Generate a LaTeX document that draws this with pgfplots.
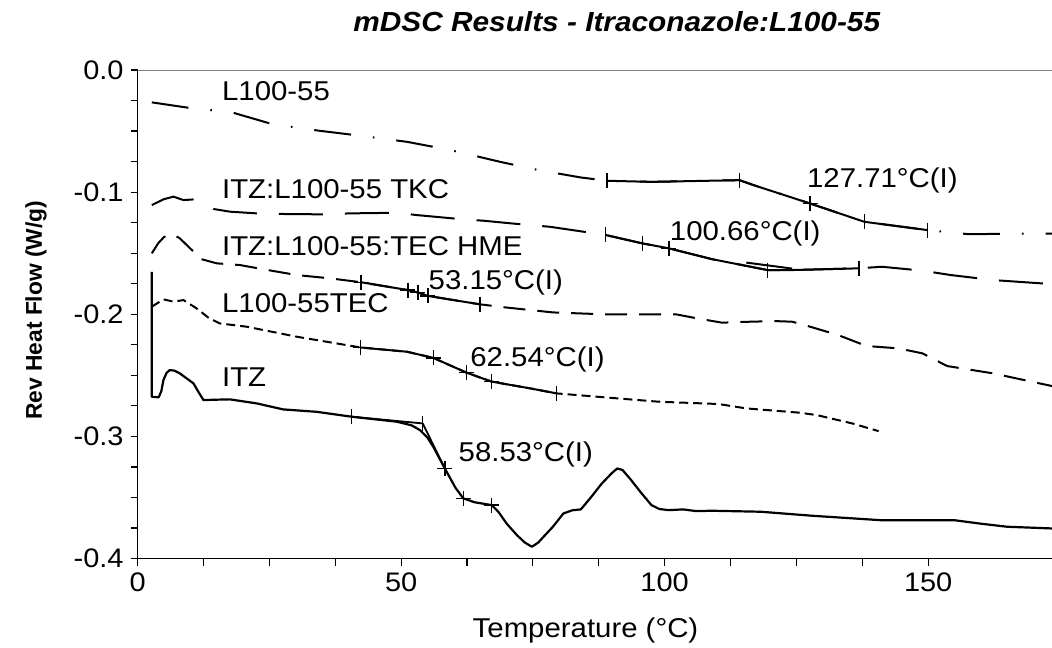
\documentclass[border=0pt]{standalone}
\usepackage{fontspec}
\setmainfont{Liberation Sans}[FakeStretch=1.08]
\newfontfamily\ylabfont{Liberation Sans}
\usepackage{pgfplots}
\pgfplotsset{compat=1.18}

\begin{document}
\begin{tikzpicture}
\useasboundingbox (-68.8bp,-44.75bp) rectangle (457.2bp,279.25bp);
\begin{axis}[
  name=ax, at={(0,0)}, anchor=south west,
  scale only axis, width=457.2bp, height=244.25bp,
  xmin=0, xmax=173.5, ymin=-0.4, ymax=0,
  axis x line*=bottom, axis y line*=left,
  axis line style={line width=0.75bp, -},
  xtick={0,50,100,150}, xticklabels={0,50,100,150}, minor x tick num=3,
  ytick={-0.4,-0.3,-0.2,-0.1,0}, yticklabels={-0.4,-0.3,-0.2,-0.1,0.0}, minor y tick num=3,
  tick align=outside, major tick length=3.5bp, minor tick length=3.5bp,
  tick style={black, line width=0.6bp},
  ticklabel style={font=\fontsize{13.4bp}{15bp}\selectfont},
  every axis plot/.append style={line join=round},
]
% L100-55
\addplot[black, line width=1bp, dash pattern=on 18.5bp off 11bp on 0.8bp off 11bp] coordinates {
(2.7,-0.0265) (9.6,-0.0309) (17.9,-0.0347) (25.7,-0.0445) (34.6,-0.0498) (42.8,-0.0541)
(51.1,-0.0588) (59.4,-0.0656) (68.8,-0.0752) (76.1,-0.0820) (84.1,-0.0880) (89.1,-0.0907)
(97.5,-0.0916) (114.2,-0.0902) (116.9,-0.0943) (127.6,-0.1093) (137.9,-0.1243) (149.9,-0.1311)
(157.6,-0.1344) (173.5,-0.1339)};
\addplot[black, line width=1bp] coordinates {
(89.1,-0.0907) (97.5,-0.0916) (114.2,-0.0902) (116.9,-0.0943) (127.6,-0.1093) (137.9,-0.1243) (149.9,-0.1311)};
\addplot[black, only marks, mark=|, mark size=3.75bp, mark options={line width=0.7bp}] coordinates {
(89.1,-0.0907) (114.2,-0.0902) (137.9,-0.1243) (149.9,-0.1311)};
\addplot[black, only marks, mark=+, mark size=3.75bp, mark options={line width=0.7bp}] coordinates {
(127.6,-0.1093)};

% ITZ:L100-55 TKC
\addplot[black, line width=1bp, dash pattern=on 22bp off 11bp] coordinates {
(2.7,-0.1106) (4.9,-0.1059) (6.8,-0.1037) (8.7,-0.1065) (10.9,-0.1059) (14.4,-0.1138)
(17.5,-0.1160) (22.6,-0.1174) (27.6,-0.1179) (35.2,-0.1182) (40.3,-0.1174) (49.2,-0.1169)
(53.0,-0.1188) (61.8,-0.1223) (65.6,-0.1234) (74.1,-0.1269) (78.1,-0.1283) (86.8,-0.1338)
(88.8,-0.1351) (95.8,-0.1420) (100.8,-0.1460) (108.9,-0.1548) (119.5,-0.1638) (124.2,-0.1638)
(136.9,-0.1624) (141.2,-0.1611) (148.9,-0.1643) (154.3,-0.1679) (162.3,-0.1720) (173.5,-0.1753)};
\addplot[black, line width=1bp] coordinates {
(88.8,-0.1351) (95.8,-0.1420) (100.8,-0.1460) (108.9,-0.1548) (119.5,-0.1638) (124.2,-0.1638) (136.9,-0.1624)};
\addplot[black, line width=1bp] coordinates {(115.5,-0.1577) (124.2,-0.1626)};
\addplot[black, only marks, mark=|, mark size=3.75bp, mark options={line width=0.7bp}] coordinates {
(88.8,-0.1351) (95.8,-0.1420) (119.5,-0.1638) (136.9,-0.1624)};
\addplot[black, only marks, mark=+, mark size=3.75bp, mark options={line width=0.7bp}] coordinates {
(100.8,-0.1460)};

% ITZ:L100-55:TEC HME
\addplot[black, line width=1bp, dash pattern=on 11bp off 6bp] coordinates {
(2.7,-0.1501) (3.9,-0.1419) (5.0,-0.1368) (6.1,-0.1346) (7.1,-0.1355) (8.0,-0.1378)
(10.3,-0.1474) (12.2,-0.1550) (15.0,-0.1583) (19.4,-0.1597) (23.9,-0.1632) (30.2,-0.1679)
(36.5,-0.1706) (42.4,-0.1738) (51.3,-0.1802) (53.2,-0.1822) (55.1,-0.1850) (65.0,-0.1919)
(70.0,-0.1945) (78.8,-0.1985) (88.8,-0.2001) (102.2,-0.2001) (106.2,-0.2034) (110.9,-0.2069)
(115.5,-0.2062) (120.9,-0.2056) (124.2,-0.2061) (127.6,-0.2102) (132.9,-0.2170) (138.3,-0.2260)
(144.3,-0.2279) (148.9,-0.2320) (153.6,-0.2424) (162.3,-0.2484) (173.5,-0.2588)};
\addplot[black, line width=1bp] coordinates {
(42.4,-0.1738) (51.3,-0.1802) (53.2,-0.1822) (55.1,-0.1850) (65.0,-0.1919)};
\addplot[black, only marks, mark=+, mark size=3.75bp, mark options={line width=0.7bp}] coordinates {
(42.4,-0.1738) (51.3,-0.1802) (53.2,-0.1822) (55.1,-0.1850)};
\addplot[black, only marks, mark=|, mark size=3.75bp, mark options={line width=0.7bp}] coordinates {
(65.0,-0.1919)};

% L100-55TEC
\addplot[black, line width=1bp, dash pattern=on 4.5bp off 2.5bp] coordinates {
(2.7,-0.1938) (4.9,-0.1878) (6.8,-0.1897) (8.7,-0.1884) (11.2,-0.1952) (13.5,-0.2030)
(15.6,-0.2075) (20.7,-0.2102) (30.2,-0.2184) (42.3,-0.2272) (51.1,-0.2307) (56.1,-0.2357)
(62.4,-0.2478) (67.2,-0.2552) (74.5,-0.2607) (79.5,-0.2648) (88.8,-0.2681) (98.8,-0.2716)
(110.2,-0.2735) (115.5,-0.2771) (125.6,-0.2806) (128.9,-0.2826) (135.6,-0.2894) (140.6,-0.2957)};
\addplot[black, line width=1bp] coordinates {
(42.3,-0.2272) (51.1,-0.2307) (56.1,-0.2357) (62.4,-0.2478) (67.2,-0.2552) (74.5,-0.2607) (79.5,-0.2648)};
\addplot[black, only marks, mark=+, mark size=3.75bp, mark options={line width=0.7bp}] coordinates {
(42.3,-0.2272) (56.1,-0.2357) (62.4,-0.2478) (67.2,-0.2552)};
\addplot[black, only marks, mark=|, mark size=3.75bp, mark options={line width=0.7bp}] coordinates {
(79.5,-0.2648)};

% ITZ
\addplot[black, line width=1.1bp] coordinates {
(2.7,-0.1652) (2.7,-0.2676) (4.0,-0.2680) (4.5,-0.2630) (4.9,-0.2539) (5.5,-0.2480)
(6.1,-0.2457) (7.0,-0.2462) (8.0,-0.2484) (10.6,-0.2566) (11.6,-0.2640) (12.5,-0.2703)
(14.5,-0.2700) (17.5,-0.2697) (22.6,-0.2730) (27.6,-0.2779) (34.0,-0.2799) (40.6,-0.2839)
(49.2,-0.2880) (52.0,-0.2910) (53.6,-0.2949) (55.0,-0.3010) (56.1,-0.3085) (58.3,-0.3263)
(60.3,-0.3420) (61.8,-0.3508) (64.0,-0.3540) (67.2,-0.3563) (68.5,-0.3620) (70.0,-0.3713)
(72.0,-0.3810) (73.5,-0.3870) (74.8,-0.3904) (76.0,-0.3870) (77.5,-0.3800) (78.8,-0.3740)
(80.8,-0.3631) (82.5,-0.3605) (84.1,-0.3598) (86.0,-0.3500) (88.0,-0.3390) (90.0,-0.3300)
(91.0,-0.3263) (92.0,-0.3275) (93.5,-0.3350) (95.5,-0.3460) (97.5,-0.3563) (99.0,-0.3595)
(100.8,-0.3604) (103.5,-0.3598) (106.0,-0.3612) (108.9,-0.3609) (118.2,-0.3617) (128.0,-0.3650)
(140.9,-0.3686) (154.9,-0.3686) (160.0,-0.3715) (165.0,-0.3740) (173.5,-0.3754)};
\addplot[black, line width=0.9bp] coordinates {
(40.6,-0.2839) (54.1,-0.2894) (58.3,-0.3263)};
\addplot[black, only marks, mark=+, mark size=3.75bp, mark options={line width=0.7bp}] coordinates {
(40.6,-0.2839) (58.3,-0.3263) (61.8,-0.3508) (67.2,-0.3563)};
\addplot[black, only marks, mark=|, mark size=3.75bp, mark options={line width=0.7bp}] coordinates {
(54.1,-0.2894)};

% curve names and transition temperatures
\begin{scope}[every node/.style={anchor=base west, inner sep=0pt, font=\fontsize{13.6bp}{15bp}\selectfont}]
\node at (axis cs:15.96,-0.0246) {L100-55};
\node at (axis cs:15.96,-0.1051) {ITZ:L100-55 TKC};
\node at (axis cs:15.96,-0.1515) {ITZ:L100-55:TEC HME};
\node at (axis cs:15.96,-0.1988) {L100-55TEC};
\node at (axis cs:15.96,-0.2588) {ITZ};
\node at (axis cs:126.96,-0.0958) {127.71°C(I)};
\node at (axis cs:100.93,-0.1392) {100.66°C(I)};
\node at (axis cs:55.16,-0.1794) {53.15°C(I)};
\node at (axis cs:63.07,-0.2424) {62.54°C(I)};
\node at (axis cs:60.85,-0.3208) {58.53°C(I)};
\end{scope}
\end{axis}
\draw[gray, line width=0.5bp] (ax.north west) -- (ax.north east);
\node[anchor=base, font=\fontsize{13.8bp}{16bp}\selectfont\bfseries\itshape]
  at ([xshift=11bp,yshift=19.15bp]ax.north) {mDSC Results - Itraconazole:L100-55};
\node[anchor=base, font=\fontsize{13.6bp}{15bp}\selectfont]
  at ([xshift=-4.65bp,yshift=-39.25bp]ax.south) {Temperature (°C)};
\node[rotate=90, anchor=center, font=\ylabfont\bfseries\fontsize{11.4bp}{13bp}\selectfont]
  at ([xshift=-50.8bp,yshift=2bp]ax.west) {Rev Heat Flow (W/g)};
\end{tikzpicture}
\end{document}
